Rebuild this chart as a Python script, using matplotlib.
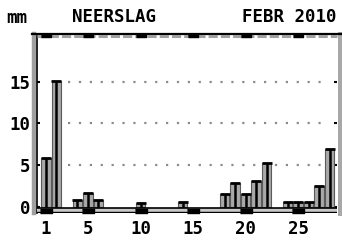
import matplotlib
matplotlib.use("Agg")
import matplotlib.pyplot as plt

# neerslag per dag, februari 2010 (mm)
days = list(range(1, 29))
rain = [5.9, 15.1, 0, 0.8, 1.7, 0.8, 0, 0, 0, 0.5, 0, 0, 0, 0.6,
        0, 0, 0, 1.5, 2.8, 1.5, 3.1, 5.2, 0, 0.6, 0.6, 0.6, 2.5, 6.9]
xticks = [1, 5, 10, 15, 20, 25]
yticks = [0, 5, 10, 15]

font = dict(family="DejaVu Sans Mono", weight="bold", size=12.5)
flat = [(-1.6, -0.5), (1.6, -0.5), (1.6, 0.5), (-1.6, 0.5)]

fig = plt.figure(figsize=(3.42, 2.43), dpi=100)
ax = fig.add_axes([37 / 342, 1 - 213 / 243, 300 / 342, 178 / 243])
ax.set_xlim(0.15, 28.7)
ax.set_ylim(-0.75, 20.6)

for s in ax.spines.values():
    s.set_visible(False)

# dotted grid
ax.hlines([5, 10, 15], 3.1, 27.8, colors="#8c8c8c", lw=1.6,
          linestyles=(0, (1, 3.9)), zorder=1)

# bars
d = [x for x, v in zip(days, rain) if v > 0]
v = [v for v in rain if v > 0]
ax.bar(d, v, width=0.92, color="#a8a8a8", edgecolor="#5a5a5a", lw=0.8, zorder=2)
ax.vlines(d, 0, v, colors="k", lw=1.8, zorder=3)
ax.plot(d, v, ls="none", marker="_", ms=6.5, mew=2, color="k", zorder=3)

# baseline band
ax.axhspan(-0.65, -0.1, color="#c8c8c8", lw=0, zorder=3)
ax.axhline(-0.1, color="k", lw=1.2, zorder=4)
ax.axhline(-0.65, color="k", lw=1.0, zorder=4)
ax.plot(xticks, [-0.5] * len(xticks), ls="none", marker=flat, ms=8,
        color="k", zorder=5, clip_on=False)

# frame
kw = dict(transform=ax.transAxes, clip_on=False)
ax.plot([-0.01, -0.01], [0, 1.006], color="#a0a0a0", lw=3.2, **kw)
ax.plot([0, 0], [0, 1.0], color="k", lw=1.2, **kw)
ax.plot([1.009, 1.009], [0, 1.006], color="#a8a8a8", lw=3.6, **kw)
ax.plot([-0.016, 1.013], [1.008, 1.008], color="k", lw=1.6, **kw)
ax.plot([0, 1.0], [0.994, 0.994], color="#a0a0a0", lw=2.2,
        ls=(0, (3, 1)), **kw)
ax.plot(xticks, [0.994] * len(xticks), ls="none", marker=flat, ms=6.5,
        color="k", transform=ax.get_xaxis_transform(), clip_on=False)

ax.set_xticks(xticks)
ax.set_yticks(yticks)
ax.set_xticklabels([str(t) for t in xticks], fontdict=font)
ax.set_yticklabels([str(t) for t in yticks], fontdict=font)
ax.tick_params(axis="x", length=0, pad=5)
ax.tick_params(axis="y", direction="in", length=2.5, width=1.5,
               right=True, pad=4.5, color="k")

fig.text(6 / 342, 1 - 18 / 243, "mm", va="center", ha="left", **font)
fig.text(72 / 342, 1 - 17 / 243, "NEERSLAG", va="center", ha="left", **font)
fig.text(336 / 342, 1 - 17 / 243, "FEBR 2010", va="center", ha="right", **font)

fig.savefig("out.png", dpi=100)
